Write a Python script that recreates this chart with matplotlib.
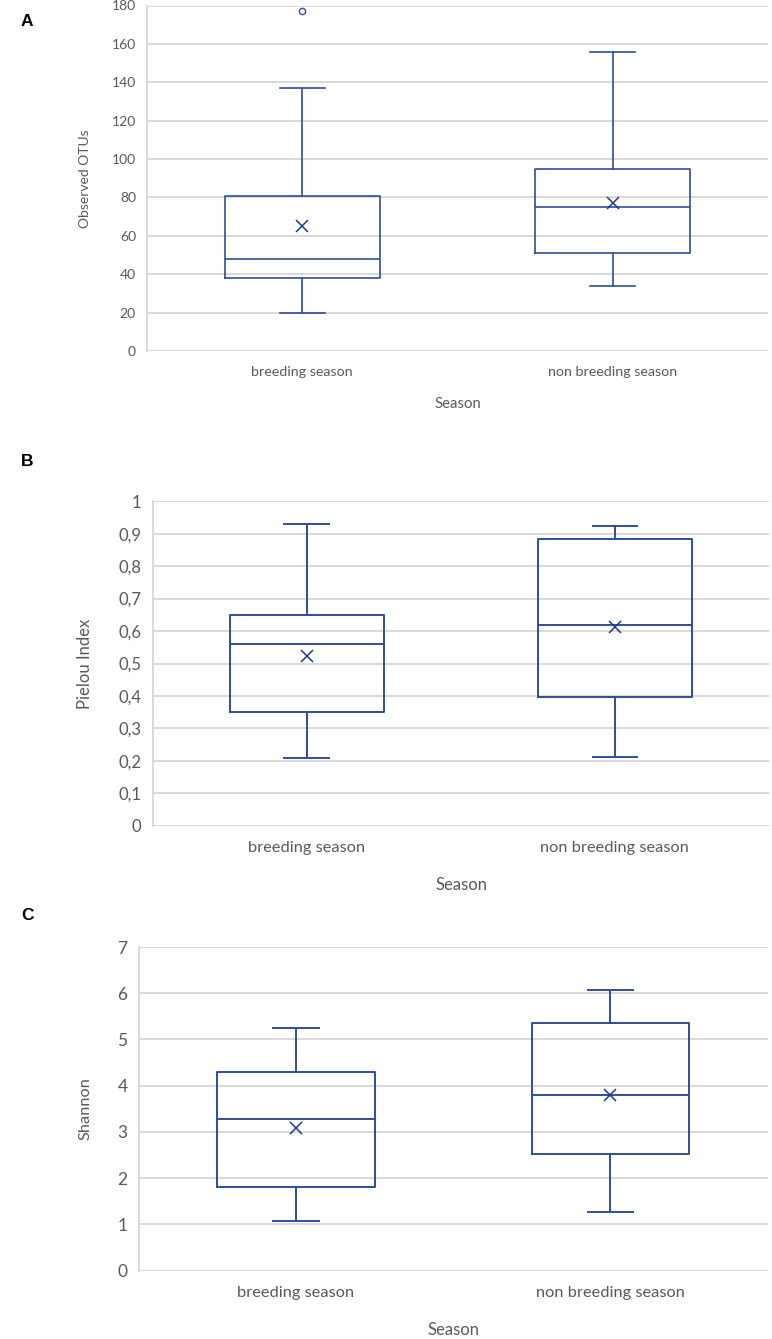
import matplotlib
matplotlib.use("Agg")
import matplotlib.pyplot as plt
from matplotlib.ticker import FuncFormatter

plt.rcParams['font.family'] = ['Lato', 'DejaVu Sans']

categories = ["breeding season", "non breeding season"]

# Panel A: Observed OTUs
a_whislo = [20, 34]
a_q1 = [38, 51]
a_med = [48, 75]
a_q3 = [81, 95]
a_whishi = [137, 156]
a_mean = [65, 77.3]
a_fliers = [[177], []]

# Panel B: Pielou Index
b_whislo = [0.208, 0.213]
b_q1 = [0.350, 0.396]
b_med = [0.560, 0.619]
b_q3 = [0.651, 0.885]
b_whishi = [0.930, 0.924]
b_mean = [0.523, 0.613]
b_fliers = [[], []]

# Panel C: Shannon
c_whislo = [1.08, 1.26]
c_q1 = [1.80, 2.53]
c_med = [3.27, 3.80]
c_q3 = [4.29, 5.35]
c_whishi = [5.25, 6.07]
c_mean = [3.08, 3.79]
c_fliers = [[], []]

W, H = 772, 1339
fig = plt.figure(figsize=(W / 100, H / 100), dpi=100)

BLUE = "#2E4D9C"
MEANC = "#1F3A8A"
GRID = "#D9D9D9"
TXT = "#595959"


def add_axes(l, r, t, b):
    return fig.add_axes([l / W, 1 - b / H, (r - l) / W, (b - t) / H])


def panel(ax, whislo, q1, med, q3, whishi, mean, fliers, ylim, yticks, ylabel,
          tick_fs, cat_fs, lab_fs, lw, fmt=None, ylab_x=-0.09):
    stats = []
    for i in range(len(categories)):
        stats.append(dict(whislo=whislo[i], q1=q1[i], med=med[i], q3=q3[i],
                          whishi=whishi[i], mean=mean[i], fliers=fliers[i],
                          label=categories[i]))
    ax.set_axisbelow(True)
    ax.bxp(stats, positions=[0.5, 1.5], widths=0.5, capwidths=0.145,
           showmeans=True, patch_artist=False,
           boxprops=dict(color=BLUE, lw=lw),
           medianprops=dict(color=BLUE, lw=lw),
           whiskerprops=dict(color=BLUE, lw=lw),
           capprops=dict(color=BLUE, lw=lw),
           meanprops=dict(marker='x', markeredgecolor=MEANC, markersize=8.5,
                          markeredgewidth=1.1, linestyle='none'),
           flierprops=dict(marker='o', markerfacecolor='white',
                           markeredgecolor=BLUE, markersize=4.5,
                           markeredgewidth=1.0))
    ax.set_xlim(0, 2)
    ax.set_ylim(*ylim)
    ax.set_yticks(yticks)
    if fmt is not None:
        ax.yaxis.set_major_formatter(FuncFormatter(fmt))
    ax.grid(axis='y', color=GRID, lw=1.4)
    for s in ['top', 'right', 'bottom']:
        ax.spines[s].set_visible(False)
    ax.spines['left'].set_color(GRID)
    ax.spines['left'].set_linewidth(1.4)
    ax.tick_params(axis='both', length=0, colors=TXT)
    ax.tick_params(axis='y', labelsize=tick_fs, pad=8)
    ax.tick_params(axis='x', labelsize=cat_fs, pad=11)
    ax.set_ylabel(ylabel, fontsize=lab_fs, color=TXT)
    ax.yaxis.set_label_coords(ylab_x, 0.5)
    for art in ax.lines:
        art.set_clip_on(False)


axA = add_axes(147, 768, 5.5, 351)
panel(axA, a_whislo, a_q1, a_med, a_q3, a_whishi, a_mean, a_fliers,
      (0, 180), list(range(0, 181, 20)), "Observed OTUs",
      10, 10.3, 10, 1.2, ylab_x=-0.090)

axB = add_axes(152.7, 769, 501.3, 825.7)
panel(axB, b_whislo, b_q1, b_med, b_q3, b_whishi, b_mean, b_fliers,
      (0, 1), [i / 10 for i in range(11)], "Pielou Index",
      12, 11.8, 12, 1.4,
      fmt=lambda v, p: ("%g" % round(v, 1)).replace('.', ','), ylab_x=-0.097)

axC = add_axes(138.7, 767.7, 947, 1270.7)
panel(axC, c_whislo, c_q1, c_med, c_q3, c_whishi, c_mean, c_fliers,
      (0, 7), list(range(0, 8)), "Shannon",
      12.5, 11.8, 11.8, 1.4, ylab_x=-0.0727)

fig.text(458 / W, 1 - 404 / H, "Season", fontsize=10.7, color=TXT,
         ha='center', va='center')
fig.text(461.7 / W, 1 - 885 / H, "Season", fontsize=12, color=TXT,
         ha='center', va='center')
fig.text(453 / W, 1 - 1330 / H, "Season", fontsize=12, color=TXT,
         ha='center', va='center')

for lab, y in [("A", 22), ("B", 461.7), ("C", 916)]:
    fig.text(27 / W, 1 - y / H, lab, fontsize=12.5, fontweight='bold',
             family='Liberation Sans', ha='center', va='center', color='black')

fig.savefig("out.png", dpi=100)
